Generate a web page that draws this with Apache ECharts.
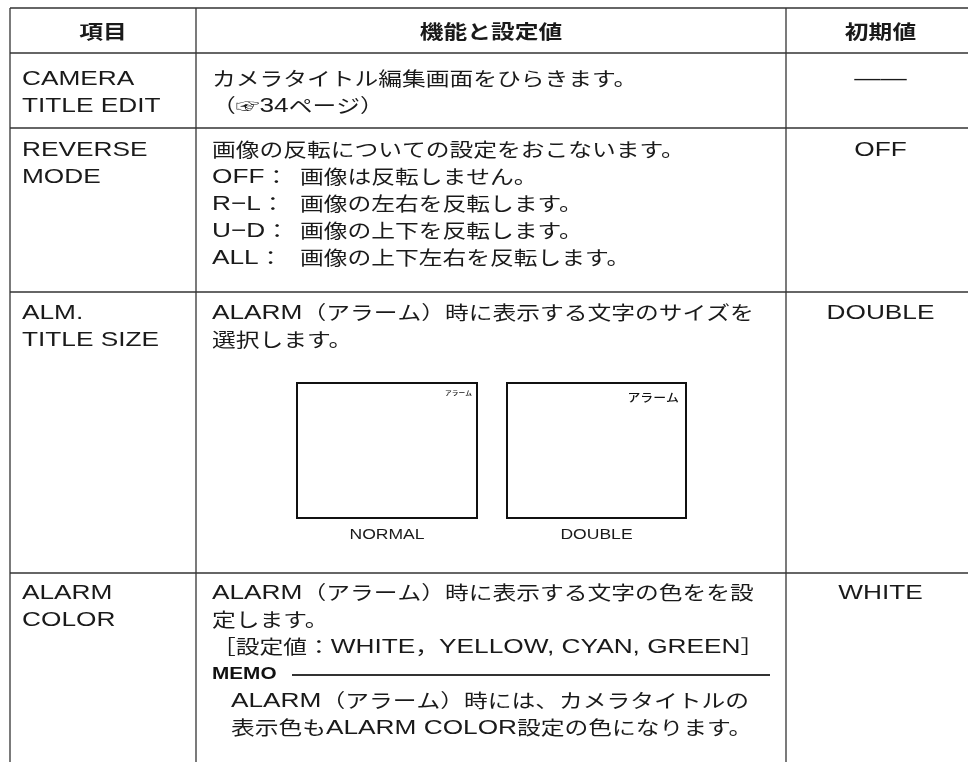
<!DOCTYPE html>
<html>
<head>
<meta charset="utf-8">
<script src="https://cdn.jsdelivr.net/npm/echarts@6/dist/echarts.min.js"></script>
<style>html,body{margin:0;padding:0;background:#fff}#c{width:968px;height:762px}</style>
</head>
<body>
<div id="c"></div>
<script>
// ---- data ----
const headers = ['項目', '機能と設定値', '初期値'];
const itemNames = [
  ['CAMERA', 'TITLE EDIT'],
  ['REVERSE', 'MODE'],
  ['ALM.', 'TITLE SIZE'],
  ['ALARM', 'COLOR']
];
const descCamera = ['カメラタイトル編集画面をひらきます。', '（☞34ページ）'];
const descReverseIntro = '画像の反転についての設定をおこないます。';
const reverseModes = ['OFF：', 'R−L：', 'U−D：', 'ALL：'];
const reverseTexts = ['画像は反転しません。', '画像の左右を反転します。', '画像の上下を反転します。', '画像の上下左右を反転します。'];
const descTitleSize = ['ALARM（アラーム）時に表示する文字のサイズを', '選択します。'];
const sizeSamples = ['NORMAL', 'DOUBLE'];
const sampleCaption = 'アラーム';
const descAlarmColor = ['ALARM（アラーム）時に表示する文字の色をを設', '定します。', '［設定値：WHITE，YELLOW, CYAN, GREEN］'];
const memoTitle = 'MEMO';
const memoLines = ['ALARM（アラーム）時には、カメラタイトルの', '表示色もALARM COLOR設定の色になります。'];
const initialValues = ['——', 'OFF', 'DOUBLE', 'WHITE'];

// ---- layout ----
const LAT = "'Liberation Sans', Arial, sans-serif";
const CJK = "'Noto Sans CJK JP', sans-serif";
const SX = 1.25, INK = '#1a1a1a', LINE = '#333', LH = 27;
const colX = [10, 196, 786, 975];
const rowY = [8, 53, 128, 292, 573, 800];
const els = [];
function richify(s) {
  // split into latin / cjk runs
  const parts = s.match(/[\x20-\x7E\u2212\u2014]+|[^\x20-\x7E\u2212\u2014]+/g) || [];
  return parts.map(p => (/^[\x20-\x7E\u2212\u2014]/.test(p) ? '{l|' : '{c|') + p + '}').join('');
}
function txt(s, x, y, o) {
  o = o || {};
  const k = o.k || 1, w = o.bold ? 'bold' : 'normal';
  els.push({
    type: 'text', x: x, y: y, scaleX: o.sx || SX, z: 10,
    style: {
      text: richify(s), fill: o.fill || INK,
      textAlign: o.align || 'left', align: o.align || 'left',
      textVerticalAlign: 'middle', verticalAlign: 'middle',
      rich: {
        l: {fontSize: 21 * k, fontFamily: LAT, fontWeight: w, fill: INK, verticalAlign: 'middle'},
        c: {fontSize: 19 * k, fontFamily: CJK, fontWeight: w, fill: INK, verticalAlign: 'middle'}
      }
    }
  });
}
function line(x1, y1, x2, y2, w) {
  els.push({type: 'line', z: 5, shape: {x1: x1, y1: y1, x2: x2, y2: y2}, style: {stroke: LINE, lineWidth: w || 1.3}});
}
// grid lines
rowY.slice(0, 5).forEach(y => line(colX[0], y, colX[3], y));
colX.forEach(x => line(x, rowY[0], x, rowY[5]));

// header
const cx = [(colX[0] + colX[1]) / 2, (colX[1] + colX[2]) / 2, (colX[2] + colX[3]) / 2];
headers.forEach((h, i) => txt(h, cx[i], 32, {bold: true, align: 'center'}));

const tx1 = 22, tx2 = 212;
const firstOff = [26, 22, 21, 20];
// item names + initial values
itemNames.forEach((names, r) => {
  const y0 = rowY[r + 1] + firstOff[r];
  names.forEach((n, k) => txt(n, tx1, y0 + k * LH));
  txt(initialValues[r], cx[2], y0, {align: 'center'});
});
// row 1
descCamera.forEach((s, k) => txt(s, tx2, rowY[1] + firstOff[0] + k * LH));
// row 2
const y2 = rowY[2] + firstOff[1];
txt(descReverseIntro, tx2, y2);
reverseModes.forEach((m, k) => {
  txt(m, tx2, y2 + (k + 1) * LH);
  txt(reverseTexts[k], 300, y2 + (k + 1) * LH);
});
// row 3
descTitleSize.forEach((s, k) => txt(s, tx2, rowY[3] + firstOff[2] + k * LH));
const boxes = [[297, 477], [507, 686]];
boxes.forEach((b, i) => {
  els.push({type: 'rect', z: 5, shape: {x: b[0], y: 383, width: b[1] - b[0], height: 135},
    style: {fill: '#fff', stroke: '#111', lineWidth: 2}});
  els.push({type: 'text', x: (b[0] + b[1]) / 2, y: 535, scaleX: 1.17, z: 10,
    style: {text: sizeSamples[i], font: '15px ' + LAT, fill: INK, textAlign: 'center', align: 'center',
      textVerticalAlign: 'middle', verticalAlign: 'middle'}});
});
[[472, 393, 6], [679, 398, 11.5]].forEach(c => {
  els.push({type: 'text', x: c[0], y: c[1], scaleX: 1.12, z: 10,
    style: {text: sampleCaption, font: '500 ' + c[2] + 'px ' + CJK, fill: '#111', textAlign: 'right', align: 'right',
      textVerticalAlign: 'middle', verticalAlign: 'middle'}});
});
// row 4
const y4 = rowY[4] + firstOff[3];
descAlarmColor.forEach((s, k) => txt(s, tx2, y4 + k * LH));
const memoY = y4 + 3 * LH;
els.push({type: 'text', x: tx2, y: memoY, scaleX: 1.22, z: 10,
  style: {text: memoTitle, font: 'bold 17px ' + LAT, fill: '#111', textAlign: 'left', align: 'left',
    textVerticalAlign: 'middle', verticalAlign: 'middle'}});
line(292, memoY + 1, 770, memoY + 1, 2.2);
memoLines.forEach((s, k) => txt(s, 231, memoY + (k + 1) * LH));

const chart = echarts.init(document.getElementById('c'), null, {renderer: 'canvas'});
chart.setOption({backgroundColor: '#fff', animation: false, graphic: {elements: els}});
</script>
</body>
</html>
